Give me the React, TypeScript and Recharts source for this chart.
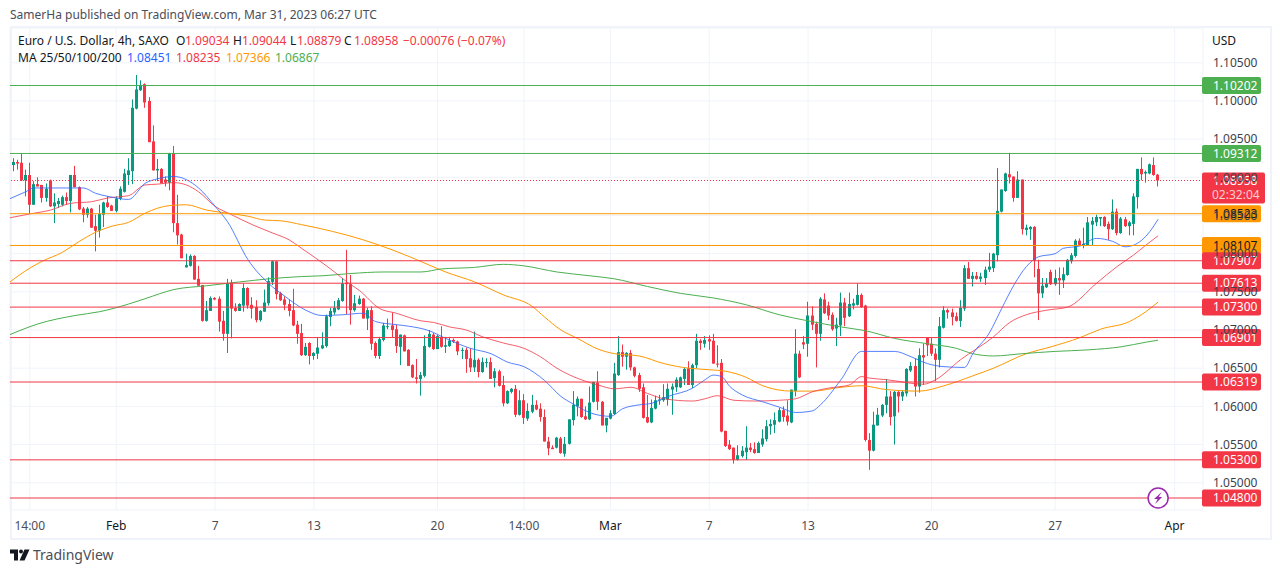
import { Bar, CartesianGrid, ComposedChart, Line, ReferenceDot, ReferenceLine, XAxis, YAxis } from "recharts";

const FONT = "'Noto Sans', sans-serif";
const UP = "#089981";
const DOWN = "#f23645";
const GRID = "#f0f3fa";
const TEXT = "#131722";

const opens = [
  1.0916, 1.092, 1.0919, 1.0896, 1.0903, 1.0864, 1.0891, 1.089, 1.0873, 1.0896,
  1.0862, 1.0865, 1.0864, 1.0874, 1.0869, 1.0903, 1.0887, 1.0859, 1.0851, 1.0859,
  1.0836, 1.083, 1.0851, 1.0867, 1.0863, 1.0856, 1.0872, 1.0881, 1.0903, 1.0908,
  1.099, 1.1014, 1.1022, 1.1, 1.0947, 1.0909, 1.0911, 1.0897, 1.0893, 1.0931,
  1.084, 1.0825, 1.0782, 1.0784, 1.0797, 1.0767, 1.0759, 1.0712, 1.0725, 1.0742,
  1.0741, 1.0712, 1.0695, 1.0762, 1.0729, 1.0725, 1.0732, 1.0755, 1.0733, 1.073,
  1.0713, 1.0724, 1.0735, 1.0763, 1.079, 1.0748, 1.074, 1.0734, 1.0726, 1.0707,
  1.0696, 1.0667, 1.0683, 1.0666, 1.0669, 1.0676, 1.0679, 1.0717, 1.0723, 1.0727,
  1.0738, 1.0762, 1.076, 1.0726, 1.0734, 1.0741, 1.0715, 1.0726, 1.0683, 1.0666,
  1.0687, 1.0704, 1.0706, 1.0701, 1.0678, 1.0693, 1.0674, 1.0654, 1.0638, 1.0636,
  1.064, 1.0678, 1.0694, 1.0675, 1.0691, 1.0678, 1.0679, 1.0687, 1.0685, 1.0673,
  1.0674, 1.0663, 1.0651, 1.0661, 1.0645, 1.0657, 1.0658, 1.0637, 1.0646, 1.0628,
  1.0604, 1.0619, 1.0623, 1.0589, 1.0608, 1.0584, 1.0593, 1.0602, 1.0597, 1.0586,
  1.0554, 1.0546, 1.0546, 1.0558, 1.0538, 1.0551, 1.0582, 1.06, 1.061, 1.0587,
  1.0583, 1.0606, 1.0631, 1.0606, 1.0575, 1.0584, 1.059, 1.0641, 1.0671, 1.0665,
  1.067, 1.0651, 1.0641, 1.0625, 1.0586, 1.0579, 1.0597, 1.0608, 1.0608, 1.0609,
  1.0622, 1.0625, 1.0625, 1.0636, 1.065, 1.0628, 1.0654, 1.0686, 1.0682, 1.0688,
  1.0686, 1.0656, 1.0657, 1.0568, 1.055, 1.0546, 1.053, 1.0535, 1.054, 1.0546,
  1.0544, 1.0539, 1.055, 1.0557, 1.0574, 1.0576, 1.058, 1.0595, 1.0588, 1.0579,
  1.062, 1.0669, 1.0684, 1.0682, 1.0719, 1.0708, 1.0695, 1.074, 1.0732, 1.072,
  1.0702, 1.0706, 1.0736, 1.0718, 1.0732, 1.0733, 1.0746, 1.0732, 1.0556, 1.0542,
  1.0575, 1.0588, 1.0602, 1.0613, 1.0587, 1.0619, 1.0613, 1.0617, 1.0647, 1.0653,
  1.0626, 1.0667, 1.069, 1.0682, 1.0669, 1.0661, 1.0703, 1.0726, 1.0723, 1.0718,
  1.0712, 1.0728, 1.0781, 1.0767, 1.0771, 1.0767, 1.0768, 1.0779, 1.0781, 1.0798,
  1.0855, 1.0882, 1.0904, 1.0901, 1.0873, 1.0897, 1.0831, 1.0832, 1.0835, 1.078,
  1.0748, 1.0756, 1.0776, 1.076, 1.0768, 1.0765, 1.0772, 1.079, 1.0797, 1.0817,
  1.0811, 1.0811, 1.0838, 1.0841, 1.0846, 1.0848, 1.0839, 1.0832, 1.0855, 1.0827,
  1.0845, 1.0836, 1.0839, 1.0874, 1.0911, 1.0905, 1.0905, 1.0916, 1.09034,
];

const highs = [
  1.0925, 1.0923, 1.0931, 1.091, 1.0919, 1.0895, 1.09, 1.089, 1.0892, 1.0897,
  1.0879, 1.0873, 1.0876, 1.088, 1.0903, 1.0915, 1.0888, 1.0861, 1.0861, 1.086,
  1.0851, 1.0864, 1.0868, 1.0875, 1.0864, 1.0875, 1.0888, 1.0911, 1.0925, 1.1002,
  1.1034, 1.1027, 1.1023, 1.1005, 1.0968, 1.0924, 1.0912, 1.0901, 1.0932, 1.0941,
  1.0877, 1.0826, 1.08, 1.0799, 1.0798, 1.0784, 1.0759, 1.0738, 1.0744, 1.0743,
  1.0744, 1.0725, 1.0767, 1.0766, 1.0735, 1.0735, 1.0761, 1.0756, 1.0743, 1.0739,
  1.0726, 1.0753, 1.0769, 1.0791, 1.079, 1.075, 1.0744, 1.074, 1.0754, 1.0712,
  1.0708, 1.0683, 1.0684, 1.0671, 1.069, 1.0697, 1.072, 1.0729, 1.0738, 1.0742,
  1.0768, 1.0805, 1.0772, 1.0746, 1.0745, 1.0742, 1.0729, 1.0731, 1.0685, 1.0691,
  1.0709, 1.0715, 1.0723, 1.0707, 1.0694, 1.0694, 1.0675, 1.0655, 1.0662, 1.0645,
  1.0693, 1.07, 1.0696, 1.0694, 1.0705, 1.0691, 1.0691, 1.0689, 1.0686, 1.0677,
  1.0677, 1.0676, 1.0698, 1.0663, 1.0664, 1.0663, 1.0664, 1.065, 1.0648, 1.064,
  1.0621, 1.0624, 1.0628, 1.0621, 1.0616, 1.0604, 1.0615, 1.0608, 1.0604, 1.0596,
  1.056, 1.0549, 1.056, 1.056, 1.056, 1.0583, 1.062, 1.0613, 1.061, 1.06,
  1.0626, 1.0632, 1.0646, 1.0607, 1.0585, 1.0595, 1.0657, 1.0692, 1.0681, 1.0671,
  1.0674, 1.0652, 1.0644, 1.063, 1.0615, 1.0609, 1.0614, 1.0615, 1.0629, 1.063,
  1.063, 1.0638, 1.0639, 1.0651, 1.0659, 1.0656, 1.0695, 1.0688, 1.0692, 1.0693,
  1.0695, 1.068, 1.0662, 1.0568, 1.0556, 1.0546, 1.0549, 1.0548, 1.0574, 1.0552,
  1.0553, 1.0554, 1.057, 1.0582, 1.0583, 1.0592, 1.0598, 1.06, 1.0608, 1.0622,
  1.0701, 1.0673, 1.0692, 1.0737, 1.0731, 1.0711, 1.0743, 1.0748, 1.0737, 1.0723,
  1.0716, 1.0749, 1.0742, 1.0749, 1.0741, 1.0761, 1.0748, 1.0733, 1.0565, 1.0593,
  1.0598, 1.0603, 1.0636, 1.062, 1.062, 1.062, 1.0621, 1.065, 1.0658, 1.0663,
  1.0676, 1.0682, 1.069, 1.069, 1.0676, 1.0717, 1.0731, 1.0728, 1.0728, 1.0723,
  1.0739, 1.0785, 1.0789, 1.0776, 1.0776, 1.0775, 1.0783, 1.0801, 1.0801, 1.0912,
  1.0884, 1.0906, 1.0932, 1.0901, 1.0908, 1.0897, 1.0838, 1.0836, 1.0836, 1.0792,
  1.0768, 1.0768, 1.0779, 1.0779, 1.0782, 1.0782, 1.0793, 1.0801, 1.0819, 1.082,
  1.0834, 1.0848, 1.0848, 1.0851, 1.0848, 1.0849, 1.0842, 1.0871, 1.0859, 1.0848,
  1.0848, 1.0843, 1.0879, 1.0911, 1.0926, 1.0909, 1.0918, 1.0926, 1.09044,
];

const lows = [
  1.0908, 1.091, 1.0895, 1.0875, 1.0852, 1.0864, 1.0888, 1.0867, 1.0868, 1.0861,
  1.084, 1.086, 1.0862, 1.0864, 1.0854, 1.0887, 1.0857, 1.0841, 1.0847, 1.0834,
  1.0803, 1.0821, 1.0835, 1.086, 1.0856, 1.0854, 1.087, 1.088, 1.089, 1.0891,
  1.0989, 1.1013, 1.0991, 1.0946, 1.0909, 1.0895, 1.0892, 1.0888, 1.0883, 1.0828,
  1.0812, 1.0794, 1.0782, 1.0783, 1.0766, 1.0758, 1.0711, 1.0711, 1.0725, 1.0739,
  1.0698, 1.0686, 1.067, 1.0689, 1.0724, 1.0725, 1.0724, 1.0728, 1.0715, 1.071,
  1.0711, 1.0724, 1.0732, 1.0759, 1.074, 1.0738, 1.0726, 1.0718, 1.0705, 1.0682,
  1.0666, 1.0666, 1.0655, 1.0661, 1.0662, 1.0675, 1.0677, 1.0705, 1.072, 1.0726,
  1.0737, 1.0721, 1.0707, 1.0724, 1.0733, 1.0715, 1.07, 1.0674, 1.0663, 1.0662,
  1.0685, 1.0701, 1.069, 1.067, 1.0654, 1.0672, 1.0653, 1.0637, 1.063, 1.0614,
  1.0638, 1.0677, 1.0674, 1.0675, 1.0677, 1.067, 1.0678, 1.0683, 1.0667, 1.0662,
  1.0644, 1.0645, 1.0645, 1.0638, 1.0644, 1.0651, 1.0636, 1.0625, 1.0626, 1.06,
  1.0603, 1.0617, 1.0586, 1.0588, 1.0577, 1.0581, 1.0591, 1.0595, 1.058, 1.0554,
  1.0536, 1.0544, 1.0545, 1.0538, 1.0534, 1.055, 1.0575, 1.0587, 1.0585, 1.0582,
  1.0582, 1.0605, 1.0595, 1.0575, 1.0566, 1.0583, 1.0589, 1.064, 1.0652, 1.0648,
  1.0647, 1.0638, 1.0619, 1.0584, 1.0578, 1.0578, 1.0596, 1.0602, 1.0606, 1.0601,
  1.0589, 1.0619, 1.0624, 1.0628, 1.0628, 1.0624, 1.065, 1.0674, 1.0677, 1.0674,
  1.0656, 1.0651, 1.0566, 1.0547, 1.0543, 1.0525, 1.0529, 1.0533, 1.053, 1.054,
  1.0538, 1.0539, 1.0547, 1.0554, 1.0563, 1.0565, 1.0579, 1.058, 1.0575, 1.0578,
  1.0613, 1.0637, 1.0675, 1.0665, 1.07, 1.0651, 1.0686, 1.0721, 1.0713, 1.0699,
  1.0679, 1.0692, 1.0705, 1.0717, 1.0727, 1.0732, 1.0729, 1.0554, 1.0517, 1.0541,
  1.0575, 1.0586, 1.0591, 1.0575, 1.055, 1.0592, 1.0607, 1.0613, 1.0645, 1.0613,
  1.0618, 1.0628, 1.0666, 1.0666, 1.0633, 1.0651, 1.0702, 1.0715, 1.0706, 1.0711,
  1.0704, 1.0725, 1.0767, 1.0757, 1.0766, 1.0763, 1.0759, 1.0776, 1.0776, 1.079,
  1.0854, 1.0881, 1.0892, 1.0868, 1.0873, 1.0825, 1.0824, 1.0818, 1.0769, 1.0713,
  1.0742, 1.0755, 1.0759, 1.0758, 1.0746, 1.0755, 1.0771, 1.0787, 1.0795, 1.081,
  1.0807, 1.081, 1.0811, 1.0836, 1.0836, 1.0835, 1.0818, 1.0831, 1.0824, 1.0826,
  1.0835, 1.0824, 1.0824, 1.0859, 1.0896, 1.0893, 1.0904, 1.0902, 1.08879,
];

const closes = [
  1.092, 1.0918, 1.0896, 1.0903, 1.0864, 1.0891, 1.0888, 1.0873, 1.0885, 1.0862,
  1.0867, 1.0869, 1.0874, 1.0869, 1.0903, 1.0887, 1.0858, 1.0851, 1.0859, 1.0834,
  1.083, 1.0852, 1.0867, 1.0861, 1.0856, 1.0872, 1.0885, 1.0905, 1.0909, 1.0991,
  1.1015, 1.1021, 1.0998, 1.0946, 1.0909, 1.0911, 1.0892, 1.0893, 1.0931, 1.084,
  1.0824, 1.0794, 1.0785, 1.0797, 1.0766, 1.0758, 1.0712, 1.0726, 1.0742, 1.074,
  1.0711, 1.0695, 1.0761, 1.0728, 1.0725, 1.0734, 1.0755, 1.0732, 1.0728, 1.0713,
  1.0725, 1.0736, 1.0764, 1.079, 1.0747, 1.0739, 1.0733, 1.0725, 1.0706, 1.0695,
  1.0667, 1.0678, 1.0666, 1.067, 1.0677, 1.068, 1.0718, 1.0725, 1.0729, 1.0739,
  1.0761, 1.076, 1.0726, 1.0735, 1.0741, 1.0715, 1.0726, 1.0682, 1.0666, 1.0688,
  1.0706, 1.0705, 1.07, 1.0679, 1.0694, 1.0672, 1.0653, 1.0638, 1.0636, 1.0641,
  1.0679, 1.0695, 1.0675, 1.0692, 1.0678, 1.068, 1.0686, 1.0685, 1.0672, 1.0674,
  1.0662, 1.0651, 1.0661, 1.0645, 1.0658, 1.0658, 1.0636, 1.0646, 1.0627, 1.0604,
  1.062, 1.0623, 1.0589, 1.0608, 1.0585, 1.0594, 1.0602, 1.0596, 1.0586, 1.0554,
  1.0545, 1.0544, 1.0559, 1.0539, 1.0551, 1.0583, 1.0602, 1.061, 1.0586, 1.0583,
  1.0605, 1.0632, 1.0606, 1.0575, 1.0585, 1.0591, 1.0643, 1.0671, 1.0665, 1.067,
  1.0651, 1.064, 1.0623, 1.0585, 1.0579, 1.0598, 1.0608, 1.0609, 1.0612, 1.0623,
  1.0626, 1.0635, 1.0638, 1.0649, 1.0628, 1.0654, 1.0686, 1.0683, 1.0687, 1.0685,
  1.0656, 1.0655, 1.0567, 1.0548, 1.0544, 1.053, 1.0536, 1.0542, 1.0546, 1.0543,
  1.0539, 1.0552, 1.0558, 1.0574, 1.0577, 1.0582, 1.0595, 1.0586, 1.058, 1.0622,
  1.0669, 1.0638, 1.0681, 1.0719, 1.0707, 1.0695, 1.0741, 1.0722, 1.0719, 1.0701,
  1.0707, 1.0736, 1.0716, 1.0734, 1.0735, 1.0746, 1.073, 1.0556, 1.0542, 1.0576,
  1.0589, 1.0602, 1.0613, 1.0586, 1.0619, 1.0613, 1.0619, 1.0649, 1.0653, 1.0626,
  1.0667, 1.0664, 1.068, 1.0669, 1.0661, 1.0705, 1.0726, 1.0723, 1.0717, 1.0712,
  1.0729, 1.0781, 1.0767, 1.0771, 1.0767, 1.077, 1.0779, 1.0783, 1.08, 1.0856,
  1.0884, 1.0905, 1.09, 1.0873, 1.0897, 1.0832, 1.0834, 1.0835, 1.0791, 1.0748,
  1.0758, 1.0761, 1.076, 1.0768, 1.0765, 1.0773, 1.0792, 1.0798, 1.0817, 1.0811,
  1.0813, 1.0841, 1.0843, 1.0848, 1.0848, 1.0836, 1.0832, 1.0855, 1.0827, 1.0846,
  1.0836, 1.0841, 1.0875, 1.0911, 1.0904, 1.0907, 1.0917, 1.0903, 1.08958,
];

// moving averages, read every few candles as [candle index, value]
const ma25 = [
  [-0.8, 1.0872], [3, 1.0881], [5, 1.0886], [9, 1.0886], [14, 1.0886], [17, 1.0886], [20, 1.0879], [23, 1.0875],
  [28, 1.0871], [32, 1.0892], [35, 1.0898], [39, 1.0901], [45, 1.0886], [49, 1.0862], [52, 1.0842], [57, 1.0792],
  [62, 1.0761], [66, 1.0744], [71, 1.0726], [75, 1.0719], [80, 1.072], [85, 1.0722], [88, 1.0711], [93, 1.0707],
  [96, 1.0705], [101, 1.0699], [105, 1.0689], [111, 1.0676], [116, 1.0669], [120, 1.0658], [124, 1.0652], [129, 1.0634],
  [133, 1.0613], [136, 1.0603], [141, 1.059], [145, 1.0587], [148, 1.0597], [152, 1.0602], [155, 1.0604], [159, 1.0613],
  [165, 1.0624], [168, 1.0635], [170, 1.0641], [172, 1.0639], [174, 1.0626], [177, 1.0615], [182, 1.0606], [186, 1.0599],
  [190, 1.0592], [194, 1.0594], [196, 1.0602], [201, 1.0635], [206, 1.0672], [210, 1.0672], [214, 1.0672], [218, 1.0665],
  [222, 1.0656], [226, 1.0652], [231, 1.0651], [233, 1.0669], [237, 1.0696], [240, 1.0728], [243, 1.0759], [246, 1.0783],
  [249, 1.0796], [253, 1.08], [255, 1.0807], [259, 1.081], [263, 1.082], [267, 1.0816], [270, 1.0809], [272, 1.0811],
  [276, 1.0829], [278, 1.08451],
];

const ma50 = [
  [-0.8, 1.0847], [4, 1.0852], [9, 1.0857], [14, 1.0866], [19, 1.0868], [23, 1.0873], [28, 1.0876], [32, 1.089],
  [35, 1.0891], [39, 1.0893], [42, 1.089], [45, 1.0881], [49, 1.0862], [53, 1.0851], [58, 1.0838], [63, 1.0827],
  [67, 1.0818], [70, 1.0807], [74, 1.0792], [78, 1.0776], [81, 1.0763], [84, 1.0752], [89, 1.0728], [93, 1.0722],
  [99, 1.0712], [102, 1.071], [106, 1.0704], [110, 1.07], [114, 1.0691], [119, 1.0683], [124, 1.0676], [128, 1.0665],
  [132, 1.065], [136, 1.0639], [142, 1.0628], [146, 1.0623], [150, 1.0625], [154, 1.0617], [158, 1.061], [165, 1.0607],
  [168, 1.061], [171, 1.0614], [175, 1.0608], [180, 1.0607], [186, 1.0608], [190, 1.061], [194, 1.0619], [198, 1.0624],
  [203, 1.0628], [206, 1.0639], [208, 1.0637], [212, 1.0635], [221, 1.0629], [224, 1.0635], [230, 1.0661], [238, 1.0691],
  [242, 1.071], [246, 1.072], [251, 1.0726], [256, 1.073], [263, 1.0761], [268, 1.0783], [272, 1.0798], [275, 1.0811],
  [278, 1.08235],
];

const ma100 = [
  [-0.8, 1.0763], [4, 1.0781], [7, 1.079], [12, 1.0802], [16, 1.0816], [20, 1.0828], [24, 1.0836], [28, 1.0841],
  [32, 1.0853], [38, 1.0863], [42, 1.0864], [47, 1.0857], [52, 1.0853], [57, 1.0849], [61, 1.0844], [65, 1.0843],
  [70, 1.0838], [85, 1.0818], [92, 1.0805], [98, 1.0792], [105, 1.0776], [112, 1.0763], [119, 1.0746], [126, 1.0731],
  [129, 1.0717], [133, 1.07], [137, 1.0689], [142, 1.0675], [146, 1.0669], [152, 1.0666], [158, 1.0656], [164, 1.065],
  [169, 1.0648], [173, 1.0646], [178, 1.0638], [182, 1.0627], [189, 1.062], [194, 1.062], [201, 1.0625], [206, 1.0627],
  [212, 1.0622], [220, 1.062], [226, 1.0627], [233, 1.064], [238, 1.065], [246, 1.0669], [252, 1.0678], [259, 1.069],
  [264, 1.0701], [271, 1.0711], [275, 1.0724], [278, 1.07366],
];

const ma200 = [
  [-0.8, 1.0694], [6, 1.0708], [15, 1.0719], [21, 1.0724], [28, 1.0734], [32, 1.0741], [39, 1.0753], [47, 1.0758],
  [55, 1.0763], [62, 1.0767], [70, 1.077], [75, 1.0771], [82, 1.0774], [90, 1.0776], [99, 1.0776], [104, 1.078],
  [112, 1.0782], [119, 1.0786], [124, 1.0784], [132, 1.0776], [140, 1.0771], [146, 1.0767], [154, 1.0757], [162, 1.0748],
  [170, 1.0742], [178, 1.0733], [186, 1.072], [193, 1.0712], [201, 1.0704], [207, 1.0699], [214, 1.0689], [222, 1.0682],
  [229, 1.0676], [233, 1.0669], [238, 1.0666], [245, 1.0669], [253, 1.0672], [261, 1.0674], [269, 1.0678], [275, 1.0684],
  [278, 1.06867],
];

const priceTicks = [1.05, 1.055, 1.06, 1.065, 1.07, 1.075, 1.08, 1.085, 1.09, 1.095, 1.1, 1.105];
const timeTicks = [4, 25, 49, 73, 103, 124, 145, 169, 193, 223, 253, 282];
const timeLabels = ["14:00", "Feb", "7", "13", "20", "14:00", "Mar", "7", "13", "20", "27", "Apr"];

const levelPrices = [1.10202, 1.09312, 1.08523, 1.08107, 1.07907, 1.07613, 1.073, 1.06901, 1.06319, 1.053, 1.048];
const levelColors = ["#4caf50", "#4caf50", "#ff9800", "#ff9800", DOWN, DOWN, DOWN, DOWN, DOWN, DOWN, DOWN];

const lastPrice = 1.08958;
const countdown = "02:32:04";

type Row = { i: number; range?: number[]; open?: number; close?: number; [k: string]: any };

function buildRows(): Row[] {
  const rows = new Map<number, Row>();
  opens.forEach((o, i) => {
    rows.set(i, { i, range: [lows[i], highs[i]], open: o, close: closes[i] });
  });
  const put = (key: string, list: number[][]) => {
    for (const [i, v] of list) {
      const row = rows.get(i) ?? { i };
      row[key] = v;
      rows.set(i, row);
    }
  };
  put("ma25", ma25);
  put("ma50", ma50);
  put("ma100", ma100);
  put("ma200", ma200);
  return Array.from(rows.values()).sort((a, b) => a.i - b.i);
}

const rows = buildRows();

function Candle(props: any) {
  const { x, y, width, height, payload } = props;
  if (!payload || !payload.range || y == null) return null;
  const [low, high] = payload.range;
  const h = Math.abs(height);
  const yOf = (p: number) => y + ((high - p) / (high - low)) * h;
  const color = payload.close >= payload.open ? UP : DOWN;
  const top = yOf(Math.max(payload.open, payload.close));
  const bottom = yOf(Math.min(payload.open, payload.close));
  const cx = Math.round(x + width / 2 - 0.5) + 0.5;
  return (
    <g>
      <line x1={cx} x2={cx} y1={y} y2={y + h} stroke={color} strokeWidth={1} />
      <rect x={cx - 1.5} y={top} width={3} height={Math.max(bottom - top, 1)} fill={color} />
    </g>
  );
}

function LevelTag(props: any) {
  const { viewBox, price, color } = props;
  if (!viewBox) return null;
  const left = viewBox.x + viewBox.width - 1;
  const isOrange = color === "#ff9800";
  return (
    <g>
      <rect x={left} y={viewBox.y - 8.5} width={59} height={17} rx={2} fill={color} />
      <text x={left + 11} y={viewBox.y + 4.2} fontSize={12} fontFamily={FONT} fill={isOrange ? TEXT : "#fff"}>
        {price.toFixed(5)}
      </text>
    </g>
  );
}

function LastTag(props: any) {
  const { viewBox } = props;
  if (!viewBox) return null;
  const left = viewBox.x + viewBox.width - 1;
  return (
    <g>
      <rect x={left} y={viewBox.y - 8} width={63} height={31} rx={2} fill={DOWN} />
      <text x={left + 11} y={viewBox.y + 4.5} fontSize={12} fontFamily={FONT} fill="#fff">
        {lastPrice.toFixed(5)}
      </text>
      <text x={left + 10} y={viewBox.y + 18.5} fontSize={12} fontFamily={FONT} fill="#fff" fillOpacity={0.75}>
        {countdown}
      </text>
    </g>
  );
}

function TimeTick(props: any) {
  const { x, y, payload } = props;
  const label = timeLabels[timeTicks.indexOf(payload.value)];
  const strong = label === "Feb" || label === "Mar" || label === "Apr";
  return (
    <text x={x} y={y + 12} textAnchor="middle" fontSize={12} fontFamily={FONT} fill={strong ? TEXT : "#4a4e59"}>
      {label}
    </text>
  );
}

function Flash(props: any) {
  const { cx, cy } = props;
  if (cx == null) return null;
  return (
    <g>
      <circle cx={cx} cy={cy} r={10} fill="#fff" stroke="#9c27b0" strokeWidth={1.5} />
      <path
        d={`M${cx + 3.5} ${cy - 6} L${cx - 4} ${cy + 1} L${cx - 0.5} ${cy + 1} L${cx - 3} ${cy + 6} L${cx + 4} ${cy - 1} L${cx + 0.5} ${cy - 1} Z`}
        fill="#9c27b0"
      />
    </g>
  );
}

const absText = (left: number, top: number, color: string, text: string, size = 12) => (
  <span
    style={{ position: "absolute", left, top, color, fontSize: size, lineHeight: "16px", whiteSpace: "nowrap" }}
  >
    {text}
  </span>
);

export default function App() {
  return (
    <div style={{ position: "absolute", left: 0, top: 0, width: 1280, height: 573, background: "#fff", fontFamily: FONT, overflow: "hidden" }}>
      {absText(10, 7, "#4a4e59", "SamerHa published on TradingView.com, Mar 31, 2023 06:27 UTC")}
      <div style={{ position: "absolute", left: 10, top: 26, width: 1258, height: 510, border: "2px solid #f0f3fa", boxSizing: "content-box" }} />

      <ComposedChart
        width={1280}
        height={573}
        data={rows}
        margin={{ top: 28, right: 18, bottom: 36, left: 10 }}
        style={{ position: "absolute", left: 0, top: 0 }}
      >
        <CartesianGrid stroke={GRID} strokeWidth={1} />
        <XAxis
          dataKey="i"
          type="number"
          domain={[-0.8, 288.9]}
          ticks={timeTicks}
          interval={0}
          axisLine={false}
          tickLine={false}
          height={27}
          tick={<TimeTick />}
          allowDataOverflow
        />
        <YAxis
          orientation="right"
          type="number"
          domain={[1.04643, 1.10955]}
          ticks={priceTicks}
          interval={0}
          width={59}
          axisLine={false}
          tickLine={false}
          tickFormatter={(v: number) => v.toFixed(5)}
          tick={{ fontSize: 12, fontFamily: FONT, fill: "#3d414c", dx: 2 }}
          allowDataOverflow
        />
        <Line dataKey="ma100" stroke="#ff9800" strokeWidth={1} dot={false} type="monotone" connectNulls isAnimationActive={false} />
        <Line dataKey="ma200" stroke="#4caf50" strokeWidth={1} dot={false} type="monotone" connectNulls isAnimationActive={false} />
        <Line dataKey="ma50" stroke="#f23645" strokeWidth={1} strokeOpacity={0.8} dot={false} type="monotone" connectNulls isAnimationActive={false} />
        <Line dataKey="ma25" stroke="#2962ff" strokeWidth={1} strokeOpacity={0.8} dot={false} type="monotone" connectNulls isAnimationActive={false} />
        <Bar dataKey="range" barSize={3} shape={<Candle />} isAnimationActive={false} />
        <ReferenceLine y={lastPrice} stroke={DOWN} strokeWidth={1} strokeDasharray="1 2" label={<LastTag />} />
        {levelPrices.map((p, k) => (
          <ReferenceLine
            key={p}
            y={p}
            stroke={levelColors[k]}
            strokeWidth={1}
            label={<LevelTag price={p} color={levelColors[k]} />}
          />
        ))}
        <ReferenceDot x={278} y={1.048} r={10} shape={<Flash />} />
      </ComposedChart>

      {absText(18, 33, "#131722", "Euro / U.S. Dollar, 4h, SAXO")}
      {absText(176, 33, "#131722", "O")}
      {absText(185, 33, DOWN, "1.09034")}
      {absText(233, 33, "#131722", "H")}
      {absText(242, 33, DOWN, "1.09044")}
      {absText(290, 33, "#131722", "L")}
      {absText(297, 33, DOWN, "1.08879")}
      {absText(344, 33, "#131722", "C")}
      {absText(354, 33, DOWN, "1.08958")}
      {absText(403, 33, DOWN, "−0.00076 (−0.07%)")}
      {absText(18, 50, "#131722", "MA 25/50/100/200")}
      {absText(127, 50, "#2962ff", "1.08451")}
      {absText(176, 50, DOWN, "1.08235")}
      {absText(226, 50, "#ff9800", "1.07366")}
      {absText(275, 50, "#4caf50", "1.06867")}
      {absText(1212, 33, "#131722", "USD")}

      <svg style={{ position: "absolute", left: 10, top: 549 }} width={20} height={12} viewBox="0 0 20 12">
        <path d="M0 0.5 H8 V11.5 H4 V4.5 H0 Z" fill="#131722" />
        <circle cx="11" cy="2.5" r="2" fill="#131722" />
        <path d="M14.5 0.5 H19.5 L14.5 11.5 H9.5 Z" fill="#131722" />
      </svg>
      {absText(33, 547, "#4a4e59", "TradingView", 14)}
    </div>
  );
}
